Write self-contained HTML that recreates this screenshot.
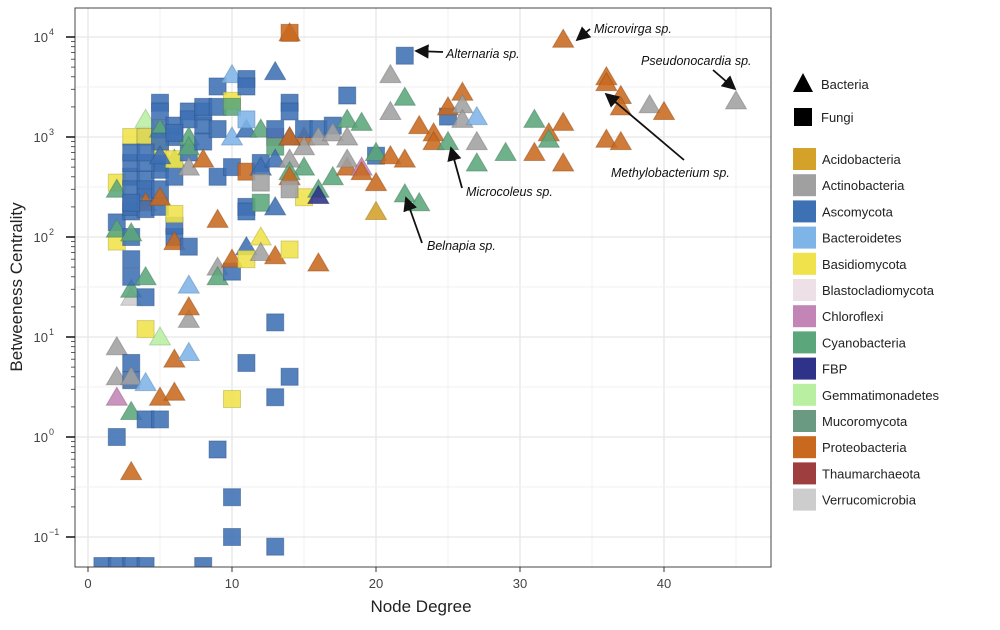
<!DOCTYPE html>
<html><head><meta charset="utf-8"><style>
body{margin:0;background:#fff;font-family:"Liberation Sans",sans-serif}
svg text{font-family:"Liberation Sans",sans-serif}
</style></head><body>
<svg id="chart" width="1000" height="625" viewBox="0 0 1000 625" xmlns="http://www.w3.org/2000/svg">
<defs><clipPath id="pc"><rect x="75" y="0" width="696" height="567"/></clipPath></defs>
<rect x="0" y="0" width="1000" height="625" fill="#fff"/>
<g id="grid"></g>
<g id="points" clip-path="url(#pc)"></g>
<rect x="75" y="8" width="696" height="559" fill="none" stroke="#444" stroke-width="1"/>
<g id="axes"></g>
<g id="annot"></g>
<g id="legend"></g>
<text x="421" y="612" text-anchor="middle" font-size="17" fill="#222">Node Degree</text>
<text transform="translate(22,287) rotate(-90)" text-anchor="middle" font-size="17" fill="#222">Betweeness Centrality</text>
</svg>
<script>
const xTicks=[0,10,20,30,40];
const yTickExps=[-1,0,1,2,3,4];
const taxa=["Acidobacteria","Actinobacteria","Ascomycota","Bacteroidetes","Basidiomycota","Blastocladiomycota","Chloroflexi","Cyanobacteria","FBP","Gemmatimonadetes","Mucoromycota","Proteobacteria","Thaumarchaeota","Verrucomicrobia"];
const taxaColors=["#D4A129","#A0A0A0","#3E70B4","#7EB4E8","#F0E24A","#EDE0E6","#C285B5","#5BA67A","#2E3288","#B8EFA0","#6B9A82","#C8691F","#9E3E3E","#CDCDCD"];
const degrees=[1,2,3,4,8, 15,15,15,15,15,16,16,16,16,16,17,17,17,18,18,18,18,18,19,19,19,20,20,20,20,21,21,21,22,22,22,22,23,23,24,24,25,25,25,26,26,26,27,27,27,29,31,31,32,32,33,33,33,36,36,36,37,37,37,39,40,45,14,
2,2,2,2,2,2,2,2,2,3,3,3,3,3,3,3,3,3,3,3,3,3,3,3,3,3,4,4,4,4,4,4,4,4,4,4,4,4,4,5,5,5,5,5,5,5,5,5,5,5,5,5,6,6,6,6,6,6,6,6,6,6,6,7,7,7,7,7,7,7,7,7,7,7,8,8,8,8,8,9,9,9,9,9,9,9,9,10,10,10,10,10,10,10,10,10,10,11,11,11,11,11,11,11,11,11,11,12,12,12,12,12,12,12,13,13,13,13,13,13,13,13,13,13,14,14,14,14,14,14,14,14,14,14,14,
3,4,5,6,4,3,5];
const betweenness=[0.05,0.05,0.05,0.05,0.05, 1000,500,1200,800,250,1200,1000,300,55,260,1300,1100,400,2600,1500,1000,500,600,500,450,1400,650,350,180,700,650,4200,1800,6500,270,600,2500,1300,220,1100,900,1600,2000,900,2800,2100,1500,1600,900,550,700,1500,700,1100,950,1400,550,9500,4000,3500,950,2600,2000,900,2100,1800,2300,11000,
1,140,90,350,300,8,4,2.5,120,0.45,1.8,25,5.5,3.7,4,30,60,40,100,180,200,400,550,1000,300,110,1.5,25,3.5,1500,380,300,250,220,190,40,1000,12,1000,1.5,2.5,10,2200,1800,1200,550,470,300,200,250,800,1200,2.8,6,100,130,90,170,400,1000,1300,600,600,7,15,20,1800,1500,700,33,80,1000,800,500,1300,1800,2000,900,600,3200,1200,150,50,40,0.75,2000,400,0.25,0.1,2.4,45,500,4200,2300,1000,60,2000,5.5,3800,3200,200,180,80,450,60,1200,1500,100,70,220,550,500,1200,350,14,2.5,0.08,4500,65,1000,1200,200,800,600,11000,4,75,2200,1800,1000,1000,600,450,400,300,
700,550,900,1100,700,220,650];
const taxonIdx=[2,2,2,2,2, 11,7,2,1,4,2,1,7,11,8,2,1,7,2,7,1,11,1,6,11,7,2,11,0,7,11,1,1,2,7,11,7,11,7,11,11,2,11,7,11,1,1,3,1,7,7,7,11,11,7,11,11,11,11,11,11,11,11,11,1,11,1,11,
2,2,4,4,7,1,1,6,7,11,7,13,2,2,1,7,2,2,2,2,2,2,2,4,2,7,2,2,3,9,2,2,2,11,2,7,2,4,4,2,11,9,2,2,2,2,2,2,2,11,4,7,11,11,2,2,11,4,2,2,2,7,4,3,1,11,2,2,2,3,2,7,7,1,2,2,2,2,11,2,2,11,1,7,2,2,2,2,2,4,2,2,3,4,3,11,7,2,2,2,2,2,2,11,4,2,3,4,1,7,2,2,7,1,2,2,2,2,11,6,2,2,7,2,11,2,4,2,2,2,11,1,7,11,1,
2,2,2,2,2,2,2];
const shapes=["s","s","s","s","s", "t","t","s","t","s","s","t","t","t","t","s","t","t","s","t","t","t","t","t","t","t","s","t","t","t","t","t","t","s","t","t","t","t","t","t","t","s","t","t","t","t","t","t","t","t","t","t","t","t","t","t","t","t","t","t","t","t","t","t","t","t","t","t",
"s","s","s","s","t","t","t","t","t","t","t","t","s","s","t","t","s","s","s","s","s","s","s","s","s","t","s","s","t","t","s","s","s","t","s","t","s","s","s","s","t","t","s","s","s","s","s","s","s","t","s","t","t","t","s","s","t","s","s","s","s","t","s","t","t","t","s","s","s","t","s","t","t","t","s","s","s","s","t","s","s","t","t","t","s","s","s","s","s","s","s","s","t","s","t","t","s","s","s","s","s","s","t","s","s","t","s","t","t","s","s","t","t","s","s","s","s","t","t","s","s","t","s","t","s","s","s","s","s","t","t","t","t","t",
"s","s","s","s","s","s","s"];
const xScale=d=>88+14.4*d;
const yScale=v=>Math.min(566,437-100*Math.log10(v));
const NS="http://www.w3.org/2000/svg";
function mk(tag,attrs,parent){const e=document.createElementNS(NS,tag);for(const k in attrs)e.setAttribute(k,attrs[k]);parent.appendChild(e);return e;}
const grid=document.getElementById('grid');
for(let i=0;i<=9;i++){const x=xScale(i*5);if(x>771)break;
 const l=mk('line',{x1:x,x2:x,y1:8,y2:567,stroke:i%2?'#F2F2F2':'#E6E6E6','stroke-width':i%2?1:1.3},grid);
 
 }
for(let e=-1.5;e<=4.5;e+=0.5){const y=437-100*e;if(y<8||y>567)continue;
 const l=mk('line',{x1:75,x2:771,y1:y,y2:y,stroke:Number.isInteger(e)?'#E6E6E6':'#F2F2F2','stroke-width':Number.isInteger(e)?1.3:1},grid);
 
 }
const axes=document.getElementById('axes');
xTicks.forEach(t=>{const x=xScale(t);
 mk('line',{x1:x,x2:x,y1:567,y2:572,stroke:'#333'},axes);
 const tx=mk('text',{x:x,y:588,'text-anchor':'middle','font-size':13,fill:'#444'},axes);tx.textContent=t;
 
 });
yTickExps.forEach(e=>{const y=437-100*e;
 mk('line',{x1:66,x2:75,y1:y,y2:y,stroke:'#111','stroke-width':1.5},axes);
 for(let m=2;m<=9;m++){const yy=y-100*Math.log10(m);if(yy<8)continue;mk('line',{x1:71,x2:75,y1:yy,y2:yy,stroke:'#333','stroke-width':0.8},axes);}
 const tx=mk('text',{x:48,y:y+5,'text-anchor':'end','font-size':13,fill:'#444'},axes);tx.textContent='10';
 
 
 const sp=mk('text',{x:49,y:y-2,'text-anchor':'start','font-size':9,fill:'#444'},axes);sp.textContent=String(e).replace('-','\u2212');});
const pts=document.getElementById('points');
function darker(c){const n=parseInt(c.slice(1),16);const r=(n>>16)*0.75|0,g=((n>>8)&255)*0.75|0,b=(n&255)*0.75|0;return `rgb(${r},${g},${b})`;}
degrees.forEach((d,i)=>{const x=xScale(d),y=yScale(betweenness[i]);const c=taxaColors[taxonIdx[i]];let el;
 if(shapes[i]==='s'){el=mk('rect',{x:x-8.5,y:y-8.5,width:17,height:17,fill:c,'fill-opacity':0.88,stroke:darker(c),'stroke-opacity':0.5},pts);}
 else{el=mk('polygon',{points:`${x},${y-10} ${x-10.5},${y+8} ${x+10.5},${y+8}`,fill:c,'fill-opacity':0.88,stroke:darker(c),'stroke-opacity':0.5},pts);}
 
 });
const an=document.getElementById('annot');
mk('defs',{},an).innerHTML='<marker id="ah" markerWidth="8" markerHeight="8" refX="7" refY="4" orient="auto"><path d="M0,0 L8,4 L0,8 z" fill="#111"/></marker>';
const notes=[["Alternaria sp.",446,58,443,52,416,51],["Microvirga sp.",594,33,590,29,577,40],["Pseudonocardia sp.",641,65,,,,],["Methylobacterium sp.",611,177,684,160,606,94],["Microcoleus sp.",466,196,462,188,451,148],["Belnapia sp.",427,250,422,243,406,198]];
notes.forEach(n=>{const t=mk('text',{x:n[1],y:n[2],'font-size':12.5,'font-style':'italic',fill:'#111'},an);t.textContent=n[0];
 
 
 if(n[3]!==undefined){mk('line',{x1:n[3],y1:n[4],x2:n[5],y2:n[6],stroke:'#111','stroke-width':1.8,'marker-end':'url(#ah)'},an);}});
mk('line',{x1:713,y1:70,x2:735,y2:89,stroke:'#111','stroke-width':1.8,'marker-end':'url(#ah)'},an);
const lg=document.getElementById('legend');
const t1=mk('polygon',{points:'803,73 793,92 813,92',fill:'#000'},lg);


let lt=mk('text',{x:821,y:89,'font-size':13,fill:'#222'},lg);lt.textContent='Bacteria';
const s1=mk('rect',{x:794,y:108,width:18,height:18,fill:'#000'},lg);


lt=mk('text',{x:821,y:122,'font-size':13,fill:'#222'},lg);lt.textContent='Fungi';
taxa.forEach((t,i)=>{const y=148+i*26.2;
 const r=mk('rect',{x:793,y:y,width:23,height:22,fill:taxaColors[i]},lg);
 
 
 const tx=mk('text',{x:822,y:y+16,'font-size':13,fill:'#222'},lg);tx.textContent=t;
 
 });
</script>
</body></html>
